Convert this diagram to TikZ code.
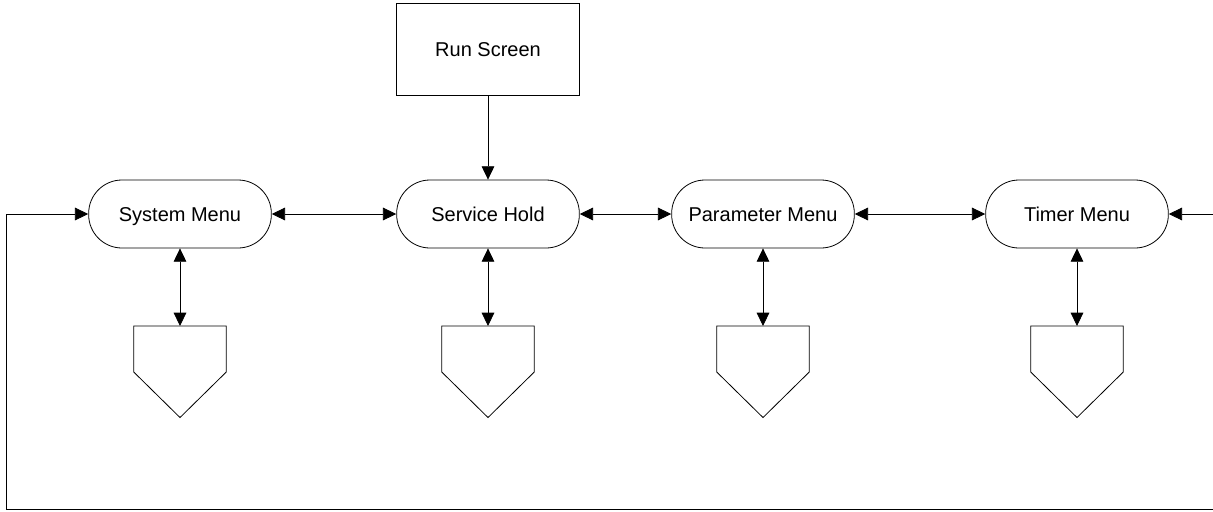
\documentclass[tikz,border=0pt]{standalone}
\usepackage{fontspec}
\setmainfont{Liberation Sans}
\usepackage{tikz}
\usetikzlibrary{calc, arrows.meta}

\begin{document}
\begin{tikzpicture}[x=0.75pt, y=-0.75pt,
    every node/.style={font=\fontsize{15}{18}\selectfont, text height=12pt, text depth=1.5pt},
    menu/.style={draw, line width=0.6pt, rounded corners=25pt, minimum width=137pt, minimum height=51pt, inner sep=0pt},
    screen/.style={draw, line width=0.6pt, minimum width=137pt, minimum height=69pt, inner sep=0pt},
    offpage/.style={minimum width=69pt, minimum height=68.25pt, inner sep=0pt, anchor=north},
    tip/.tip={Triangle[length=10pt, width=9.5pt]},
    arr/.style={line width=0.6pt, -tip},
    biarr/.style={line width=0.6pt, tip-tip}]
    \useasboundingbox (0,0) rectangle (1213,511);

    % top screen and the menu row
    \node[screen] (run) at (488,49) {Run Screen};
    \node[menu] (sys) at (180,214) {System Menu};
    \node[menu] (svc) at (488,214) {Service Hold};
    \node[menu] (par) at (763,214) {Parameter Menu};
    \node[menu] (tim) at (1077,214) {Timer Menu};

    \draw[arr] (run) -- (svc);
    \draw[biarr] (sys) -- (svc);
    \draw[biarr] (svc) -- (par);
    \draw[biarr] (par) -- (tim);

    % off-page connectors under each menu
    \foreach \nm/\x in {sys/180, svc/488, par/763, tim/1077} {
        \node[offpage] (\nm-pg) at (\x,326) {};
        \draw[line width=0.6pt] (\nm-pg.north west) -- ($(\nm-pg.north west)+(0,46)$)
            -- (\nm-pg.south) -- ($(\nm-pg.north east)+(0,46)$) -- (\nm-pg.north east) -- cycle;
        \draw[biarr] (\nm) -- (\nm-pg.north);
    }

    % wrap-around loop
    \coordinate (lp-bot) at (6,509);
    \coordinate (rt-bot) at (1213,509);
    \coordinate (rt-top) at (1213,214);
    \draw[arr] (rt-bot) -- (lp-bot) |- (sys.west);
    \draw[arr] (rt-top) -- (tim.east);
\end{tikzpicture}
\end{document}
